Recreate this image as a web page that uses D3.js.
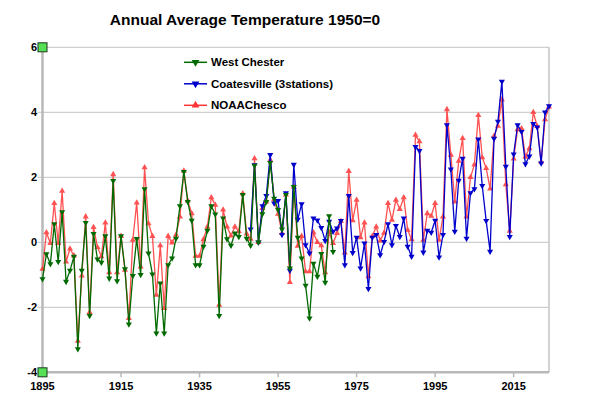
<!DOCTYPE html>
<html><head><meta charset="utf-8">
<script src="https://cdn.jsdelivr.net/npm/d3@7"></script>
<style>body{margin:0;background:#fff}svg{display:block}text{font-family:"Liberation Sans",Arial,sans-serif}</style>
</head><body><div id="c"></div>
<script>
const title = "Annual Average Temperature 1950=0";
const seriesNames = ["West Chester", "Coatesville (3stations)", "NOAAChesco"];
const xTicks = [1895, 1915, 1935, 1955, 1975, 1995, 2015];
const yTicks = [-4, -2, 0, 2, 4, 6];

const westChesterStart = 1895;
const westChester = [-1.13,-0.36,-0.67,0.56,-0.6,0.93,-1.21,-0.87,-0.44,-3.28,
 -0.87,0.6,-2.26,0.26,-0.52,-0.62,0.19,-1.11,1.89,-1.19,
 0.19,-0.82,-2.52,-1.03,0.11,-1.0,1.64,-0.34,-0.98,-2.8,
 -1.26,-2.8,-0.7,-0.49,0.12,1.12,2.17,1.25,0.67,-0.7,
 -0.7,-0.13,0.36,1.12,0.86,-2.26,0.74,0.1,-0.1,0.28,
 0.17,1.46,0.12,-0.1,2.36,0,0.87,1.25,2.45,1.35,
 1.0,0.4,1.46,-0.8,1.71,0.15,-0.49,-1.33,-2.34,-0.65,
 -1.05,-0.35,-1.24,0.81,-0.29];

const coatesvilleStart = 1948;
const coatesville = [0.4,2.38,0,1.12,1.43,2.69,1.2,1.28,0.23,1.52,
 -0.87,2.39,0.7,1.18,-0.08,-0.34,0.74,0.68,0.45,0.05,
 0.64,0.33,0.43,0.66,-0.7,1.43,-0.32,0.15,-0.8,-0.03,
 -1.43,0.15,0.23,-0.39,0.02,0.56,-0.08,0.51,0.17,0.74,
 -0.13,-0.44,2.94,2.82,-0.31,0.36,0.3,0.67,-0.46,0.23,
 3.61,2.25,0.33,1.9,2.58,0.12,1.52,1.64,3.17,1.74,
 0.66,-0.28,3.19,3.72,4.95,2.33,0.17,2.71,3.61,3.4,
 2.41,2.65,3.65,3.54,2.43,4.0,4.19];

const noaaStart = 1895;
const noaa = [-0.82,0.30,-0.03,1.2,-0.03,1.58,-0.6,-0.2,-0.41,-3.04,
 -1.03,0.79,-2.15,0.46,-0.15,-0.44,0.6,-0.93,2.09,-0.93,
 0.19,-0.85,-2.34,0.07,1.22,-0.75,2.3,0.58,0.19,-1.62,
 -0.1,-2.03,0.19,-0.01,0.23,0.79,2.2,1.28,0.89,-0.42,
 -0.42,0.09,0.48,1.38,1.15,-1.93,1.0,0.48,0.2,0.48,
 0.33,1.5,0.26,0.1,2.58,0,1.05,1.25,2.53,1.32,
 0.87,0.28,1.46,-1.23,1.71,-0.11,0.19,-0.9,-0.9,0.3,
 0,-0.1,-0.93,0.31,-0.03,0.28,0.65,-0.32,2.19,0.67,
 1.3,0.15,0.6,-1.05,0.19,0.48,0.05,0.29,1.2,0.69,
 1.3,1.02,1.38,0.38,0.09,3.3,3.1,0.07,0.89,0.81,
 1.2,0.07,0.79,4.09,2.69,1.25,2.5,3.2,0.79,2.0,
 2.39,3.91,2.61,2.28,1.65,3.27,3.58,4.39,1.78,0.35,
 2.57,3.47,3.5,2.63,2.89,4.0,3.57,2.48,3.78,4.17];

const W = 607, H = 399;
const svg = d3.select("#c").append("svg").attr("width", W).attr("height", H);

const x = d3.scaleLinear().domain([1895, 2024]).range([42.5, 549]);
const y = d3.scaleLinear().domain([-4, 6]).range([372.3, 47.3]);

const toPts = (start, vals) => vals.map((v, i) => ({yr: start + i, v}));

// gridlines
svg.append("g").selectAll("line").data(yTicks).join("line")
  .attr("x1", x(1895) - 5).attr("x2", x(2024))
  .attr("y1", d => y(d)).attr("y2", d => y(d))
  .attr("stroke", "#c3c3c3").attr("stroke-width", 1);
// frame
svg.append("line").attr("x1", x(2024)).attr("x2", x(2024)).attr("y1", y(6)).attr("y2", y(-4))
  .attr("stroke", "#c3c3c3").attr("stroke-width", 1.5);
svg.append("line").attr("x1", x(1895)).attr("x2", x(1895)).attr("y1", y(6)).attr("y2", y(-4))
  .attr("stroke", "#b8b8b8").attr("stroke-width", 2.5);
svg.append("line").attr("x1", x(1895)).attr("x2", x(2024)).attr("y1", y(-4)).attr("y2", y(-4))
  .attr("stroke", "#b8b8b8").attr("stroke-width", 2.5);
// x ticks
svg.append("g").selectAll("line").data(xTicks).join("line")
  .attr("x1", d => x(d)).attr("x2", d => x(d)).attr("y1", y(-4)).attr("y2", y(-4) + 5)
  .attr("stroke", "#b8b8b8").attr("stroke-width", 1.5);
svg.append("g").selectAll("text").data(xTicks).join("text")
  .attr("x", d => x(d)).attr("y", 390).attr("text-anchor", "middle")
  .attr("font-size", 11).attr("font-weight", "bold").text(d => d);
svg.append("g").selectAll("text").data(yTicks).join("text")
  .attr("x", 37).attr("y", d => y(d) + 4).attr("text-anchor", "end")
  .attr("font-size", 11).attr("font-weight", "bold").text(d => d);

const triUp = d3.symbol().type(d3.symbolTriangle).size(16);
function drawSeries(pts, color, down, opacity) {
  const g = svg.append("g").attr("opacity", opacity);
  g.append("path").datum(pts)
    .attr("d", d3.line().x(d => x(d.yr)).y(d => y(d.v)))
    .attr("fill", "none").attr("stroke", color).attr("stroke-width", 1.3);
  g.selectAll("path.m").data(pts).join("path").attr("class", "m")
    .attr("d", triUp())
    .attr("transform", d => `translate(${x(d.yr)},${y(d.v)})${down ? " rotate(180)" : ""}`)
    .attr("fill", color);
}
drawSeries(toPts(noaaStart, noaa), "#ff3333", false, 0.85);
drawSeries(toPts(coatesvilleStart, coatesville), "#0000cc", true, 1);
drawSeries(toPts(westChesterStart, westChester), "#006a00", true, 1);

// corner squares
svg.append("g").selectAll("rect").data([6, -4]).join("rect")
  .attr("x", x(1895) - 4.5).attr("y", d => y(d) - 4.5).attr("width", 9).attr("height", 9)
  .attr("fill", "#55e055").attr("stroke", "#1a3a1a").attr("stroke-width", 1);

// title
svg.append("text").attr("x", 245).attr("y", 25).attr("text-anchor", "middle")
  .attr("font-size", 15.5).attr("font-weight", "bold").text(title);

// legend
const legColors = ["#006a00", "#0000cc", "#ff3333"];
const legDown = [true, true, false];
const lg = svg.append("g");
seriesNames.forEach((n, i) => {
  const ly = 62.3 + i * 21.5;
  lg.append("line").attr("x1", 184).attr("x2", 207).attr("y1", ly).attr("y2", ly)
    .attr("stroke", legColors[i]).attr("stroke-width", 1.5);
  lg.append("path").attr("d", d3.symbol().type(d3.symbolTriangle).size(26)())
    .attr("transform", `translate(195.5,${ly})${legDown[i] ? " rotate(180)" : ""}`)
    .attr("fill", legColors[i]);
  lg.append("text").attr("x", 211).attr("y", ly + 4).attr("font-size", 11.5)
    .attr("font-weight", "bold").text(n);
});
</script></body></html>
